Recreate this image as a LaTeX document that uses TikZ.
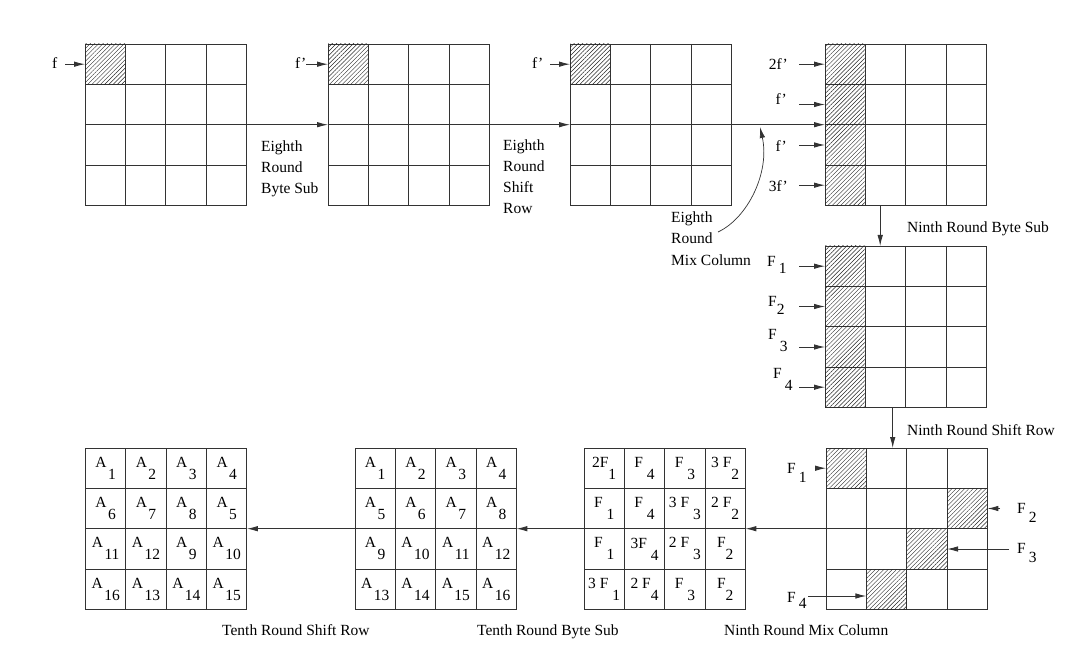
\documentclass[tikz,border=0pt]{standalone}
\usepackage{fontspec}
\setmainfont{Liberation Serif}
\usetikzlibrary{arrows.meta,patterns.meta,calc}
\colorlet{lc}{black!80}
\newcommand{\lw}[2]{#1\kern1.5pt\raisebox{-12pt}{#2}}
\newcommand{\lo}[3]{#1\kern3pt\raisebox{-#3pt}{#2}}
\newcommand{\mkgrid}[3]{%
  \node[gridbox] (#1) at (#2+80.7,#3+80.7) {};
  \foreach \i in {1,2,3}{%
    \draw[gl] ($(#1.north west)+(\i*40.35,0)$) -- ($(#1.south west)+(\i*40.35,0)$);
    \draw[gl] ($(#1.north west)+(0,\i*40.35)$) -- ($(#1.north east)+(0,\i*40.35)$);
  }}
\newcommand{\hatch}[3]{\fill[hp] ($(#1.north west)+(#2*40.35,#3*40.35)$) rectangle ++(40.35,40.35);}
\newcommand{\ct}[4]{\node[ctext] (#1c#2#3) at ($(#1.north west)+(#2*40.35+20.17,#3*40.35+20.17)$) {#4};}
\newcommand{\lbl}[4]{\node[lab] (#1) at (#2,#3) {#4};}
\newcommand{\lbr}[4]{\node[labr] (#1) at (#2,#3) {#4};}
\begin{document}
\begin{tikzpicture}[x=1pt,y=-1pt,
  font=\fontsize{15.5pt}{21pt}\selectfont,
  gridbox/.style={draw=lc, line width=0.9pt, minimum size=161.4pt, inner sep=0pt, outer sep=0pt},
  gl/.style={draw=lc, line width=0.9pt},
  hp/.style={pattern={Lines[angle=45,distance=3pt,line width=0.45pt]}, pattern color=black!85},
  ctext/.style={inner sep=0pt},
  lab/.style={anchor=base west, inner sep=0pt},
  labr/.style={anchor=base east, inner sep=0pt},
  arr/.style={draw=lc, line width=0.9pt, -{Latex[length=11pt,width=5.5pt]}},
  carr/.style={draw=lc, line width=0.7pt, -{Latex[length=11pt,width=5.5pt]}}]
\fill[white] (0,0) rectangle (1076,660);
\useasboundingbox (0,0) rectangle (1076,660);

% ---- grids ----
\mkgrid{g1}{85}{44}
\mkgrid{g2}{328}{44}
\mkgrid{g3}{570}{44}
\mkgrid{g4}{825}{44}
\mkgrid{g5}{825}{246}
\mkgrid{g6}{826}{448}
\mkgrid{g7}{584}{448}
\mkgrid{g8}{355}{448}
\mkgrid{g9}{85.5}{448}

% ---- hatching ----
\hatch{g1}{0}{0}
\hatch{g2}{0}{0}
\hatch{g3}{0}{0}
\foreach \r in {0,1,2,3}{\hatch{g4}{0}{\r}\hatch{g5}{0}{\r}}
\hatch{g6}{0}{0}
\hatch{g6}{3}{1}
\hatch{g6}{2}{2}
\hatch{g6}{1}{3}

% ---- cell texts ----
\foreach \n [count=\k from 0] in {1,2,3,4,6,7,8,5,11,12,9,10,16,13,14,15}{%
  \pgfmathtruncatemacro\cc{mod(\k,4)}\pgfmathtruncatemacro\rr{div(\k,4)}%
  \ct{g9}{\cc}{\rr}{\lw{A}{\n}}}
\foreach \n [count=\k from 0] in {1,...,16}{%
  \pgfmathtruncatemacro\cc{mod(\k,4)}\pgfmathtruncatemacro\rr{div(\k,4)}%
  \ct{g8}{\cc}{\rr}{\lw{A}{\n}}}
\foreach \t/\n [count=\k from 0] in {2F/1,F\ /4,F\ /3,3 F/2,
    F\ /1,F\ /4,3 F\ /3,2 F/2,
    F\ /1,3F\ /4,2 F\ /3,F/2,
    3 F\ /1,2 F/4,F\ /3,F/2}{%
  \pgfmathtruncatemacro\cc{mod(\k,4)}\pgfmathtruncatemacro\rr{div(\k,4)}%
  \ct{g7}{\cc}{\rr}{\t\raisebox{-12pt}{\n}}}

% ---- main connectors ----
\draw[arr] (g1.east) -- (g2.west);
\draw[arr] (g2.east) -- (g3.west);
\draw[arr] (g3.east) -- (g4.west);
\coordinate (v1) at ([xshift=-25.5pt]g4.south);
\draw[arr] (v1) -- (v1 |- g5.north);
\coordinate (v2) at ([xshift=-13pt]g5.south);
\draw[arr] (v2) -- (v2 |- g6.north);
\draw[arr] (g6.west) -- (g7.east);
\draw[arr] (g7.west) -- (g8.east);
\draw[arr] (g8.west) -- (g9.east);

% curved arrow
\coordinate (cs) at (718,232);
\coordinate (ce) at (760,127);
\draw[carr] (cs) .. controls (748,218) and (770,172) .. (ce);

% ---- input arrows ----
\coordinate (t1) at (65,64.2);  \draw[arr] (t1) -- (t1 -| g1.west);
\coordinate (t2) at (306,64.2); \draw[arr] (t2) -- (t2 -| g2.west);
\coordinate (t3) at (550,64.2); \draw[arr] (t3) -- (t3 -| g3.west);
\foreach \y [count=\j] in {64.2,104.5,145,185.2}{%
  \coordinate (u\j) at (799,\y); \draw[arr] (u\j) -- (u\j -| g4.west);}
\foreach \y [count=\j] in {266.2,306.5,347,387.2}{%
  \coordinate (w\j) at (799,\y); \draw[arr] (w\j) -- (w\j -| g5.west);}
\coordinate (x1) at (815,468.2);  \draw[arr] (x1) -- (x1 -| g6.west);
\coordinate (x2) at (1000,508.5); \draw[arr] (x2) -- (x2 -| g6.east);
\coordinate (x3) at (1009,549);   \draw[arr] (x3) -- ($(x3 -| g6.east)+(-40.35,0)$);
\coordinate (x4) at (808,596);    \draw[arr] (x4) -- ($(x4 -| g6.west)+(40.35,0)$);

% ---- input labels ----
\lbl{lf1}{52}{69}{f}
\lbl{lf2}{295}{69}{f’}
\lbl{lf3}{532}{69}{f’}
\lbr{lf4}{788}{70}{2f’}
\lbr{lf5}{787}{105}{f’}
\lbr{lf6}{787}{152}{f’}
\lbr{lf7}{788}{192}{3f’}
\lbl{lF1}{767}{267}{\lo{F}{1}{7}}
\lbl{lF2}{768}{307}{F\raisebox{-7pt}{2}}
\lbl{lF3}{768}{339}{\lo{F}{3}{12}}
\lbl{lF4}{773}{378}{\lo{F}{4}{12}}
\lbl{lG1}{787}{473}{\lo{F}{1}{9}}
\lbl{lG2}{1017}{513}{\lo{F}{2}{9}}
\lbl{lG3}{1017}{553}{\lo{F}{3}{9}}
\lbl{lG4}{787}{602}{\lo{F}{4}{6}}

% ---- stage labels ----
\lbl{s1a}{261}{152}{Eighth}
\lbl{s1b}{261}{173}{Round}
\lbl{s1c}{261}{194}{Byte Sub}
\lbl{s2a}{503}{151}{Eighth}
\lbl{s2b}{503}{172}{Round}
\lbl{s2c}{503}{193}{Shift}
\lbl{s2d}{503}{214}{Row}
\lbl{s3a}{671}{223}{Eighth}
\lbl{s3b}{671}{244}{Round}
\lbl{s3c}{671}{266}{Mix Column}
\lbl{s4}{907}{233}{Ninth Round Byte Sub}
\lbl{s5}{907}{435}{Ninth Round Shift Row}
\lbl{s6}{724}{635}{Ninth Round Mix Column}
\lbl{s7}{477}{635}{Tenth Round Byte Sub}
\lbl{s8}{222}{635}{Tenth Round Shift Row}
\end{tikzpicture}
\end{document}
